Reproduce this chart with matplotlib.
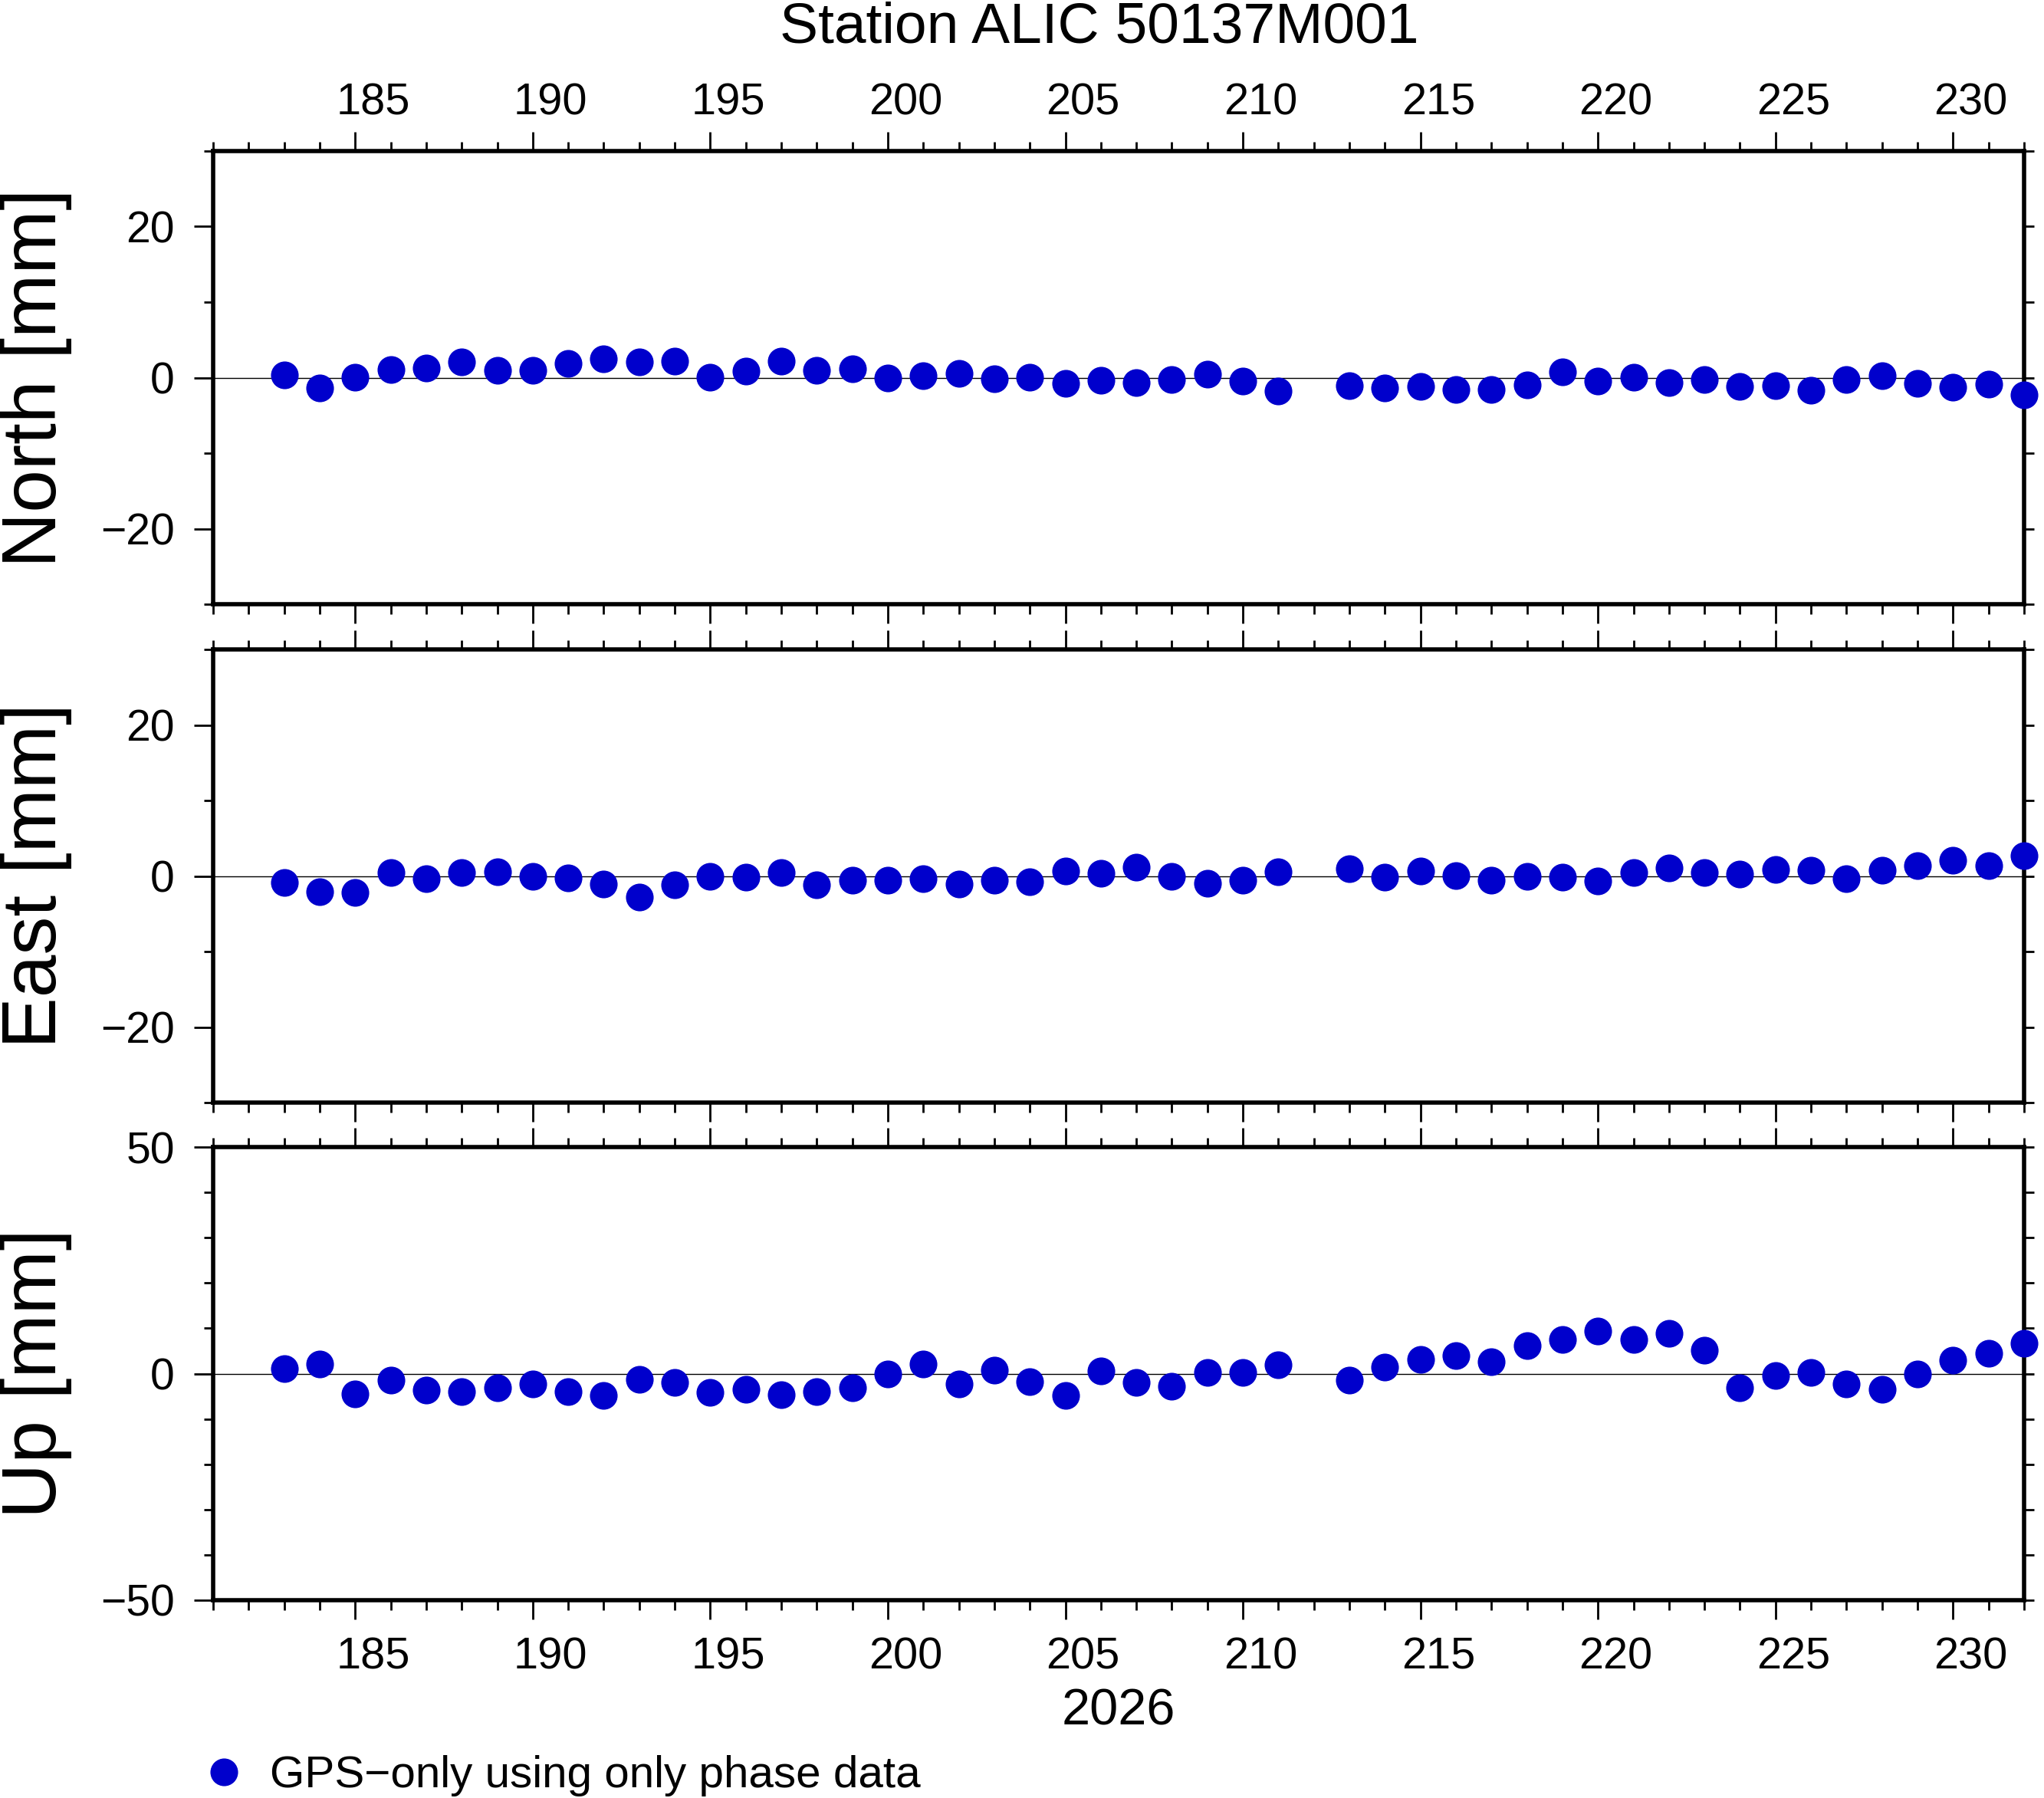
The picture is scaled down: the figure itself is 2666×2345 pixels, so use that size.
import numpy as np  # numeric helpers
import matplotlib
matplotlib.use('Agg')
import matplotlib.pyplot as plt  # plotting
from matplotlib.ticker import MultipleLocator

plt.rcParams['font.family'] = ['Liberation Sans', 'DejaVu Sans']

# Day of year 2026 (day 212 is missing)
days = [183, 184, 185, 186, 187, 188, 189, 190, 191, 192, 193, 194, 195, 196, 197,
        198, 199, 200, 201, 202, 203, 204, 205, 206, 207, 208, 209, 210, 211,
        213, 214, 215, 216, 217, 218, 219, 220, 221, 222, 223, 224, 225, 226, 227,
        228, 229, 230, 231, 232]

# Residuals in mm
north = [0.35, -1.4, 0.05, 1.08, 1.27, 2.1, 0.96, 0.96, 1.87, 2.48, 2.08, 2.18, 0.05, 0.86, 2.18,
         1.0, 1.17, -0.05, 0.25, 0.56, -0.15, 0.08, -0.76, -0.35, -0.64, -0.25, 0.47, -0.46, -1.76,
         -1.05, -1.37, -1.17, -1.57, -1.57, -0.93, 0.76, -0.46, 0.05, -0.66, -0.25, -1.17, -1.06, -1.67,
         -0.25, 0.25, -0.76, -1.27, -0.86, -2.33]
east = [-0.83, -2.06, -2.18, 0.46, -0.35, 0.46, 0.56, -0.05, -0.25, -1.06, -2.79, -1.17, -0.05, -0.15, 0.46,
        -1.17, -0.56, -0.56, -0.35, -1.06, -0.56, -0.76, 0.66, 0.35, 1.17, -0.05, -0.95, -0.56, 0.56,
        1.0, -0.15, 0.66, 0.05, -0.56, -0.05, -0.15, -0.66, 0.46, 1.06, 0.46, 0.25, 0.86, 0.76,
        -0.35, 0.76, 1.37, 2.1, 1.37, 2.7]
up = [1.1, 2.1, -4.5, -1.5, -3.7, -4.0, -3.2, -2.2, -3.9, -4.9, -1.2, -2.0, -4.2, -3.5, -4.7,
      -4.0, -3.2, -0.1, 2.1, -2.2, 0.7, -1.8, -4.9, 0.6, -2.0, -2.8, 0.3, 0.3, 1.95,
      -1.4, 1.4, 3.1, 3.9, 2.7, 6.2, 7.5, 9.35, 7.5, 8.8, 5.1, -3.2, -0.45, 0.3, -2.3,
      -3.5, 0.0, 2.9, 4.5, 6.7]

series = [north, east, up]
names = ['North [mm]', 'East [mm]', 'Up [mm]']
ylims = [(-30, 30), (-30, 30), (-50, 50)]
ymajor = [20, 20, 50]
xlabels = [185, 190, 195, 200, 205, 210, 215, 220, 225, 230]

W, H = 2666, 2345
fig = plt.figure(figsize=(W / 200, H / 200), dpi=200)

left = 278 / W
width = (2640 - 278) / W
tops = [197, 847, 1496]  # frame tops in pixels
panel_h = 591

for i in range(3):
    ax = fig.add_axes([left, 1 - (tops[i] + panel_h) / H, width, panel_h / H])
    ax.axhline(0, color='black', lw=0.5, zorder=1)  # zero line
    pts, = ax.plot(days, series[i], 'o', color='#0000CC', markersize=13, mew=0,
                   clip_on=False, zorder=5)
    ax.set_xlim(181, 232)
    ax.set_ylim(*ylims[i])
    ax.xaxis.set_major_locator(MultipleLocator(5))
    ax.xaxis.set_minor_locator(MultipleLocator(1))
    ax.yaxis.set_major_locator(MultipleLocator(ymajor[i]))
    ax.yaxis.set_minor_locator(MultipleLocator(10))
    ax.tick_params(which='both', direction='out', top=True, bottom=True, left=True, right=False,
                   labelbottom=False, labeltop=False, width=1.0)
    ax.tick_params(which='major', length=9)
    ax.tick_params(which='minor', length=4.5)
    ax.tick_params(axis='y', labelsize=20.5, pad=9)
    for s in ax.spines.values():
        s.set_linewidth(2.0)

    # right side: short ticks only
    sy = ax.secondary_yaxis('right')
    sy.set_yticks(np.arange(ylims[i][0], ylims[i][1] + 1, 10))
    sy.tick_params(length=4.5, width=1.0, labelright=False, direction='out')
    for s in sy.spines.values():
        s.set_visible(False)

    # day labels centred inside each day interval
    if i == 0 or i == 2:
        where = 'top' if i == 0 else 'bottom'
        sx = ax.secondary_xaxis(where)
        sx.set_xticks([d + 0.5 for d in xlabels], labels=[str(d) for d in xlabels])
        sx.tick_params(length=0, pad=12.6 if i == 0 else 17, labelsize=20.8)
        for s in sx.spines.values():
            s.set_visible(False)

    # component label
    fig.text(47 / W, 1 - (tops[i] + panel_h / 2) / H, names[i], rotation=90,
             ha='center', va='center', fontsize=36)

fig.text(1434 / W, 1 - 56 / H, 'Station ALIC 50137M001', ha='center', va='baseline', fontsize=27)
fig.text(1459 / W, 1 - 2249 / H, '2026', ha='center', va='baseline', fontsize=24)

fig.legend(handles=[pts], labels=['GPS\u2212only using only phase data'], loc='center left',
           bbox_to_anchor=(263 / W, 1 - 2316 / H), frameon=False, fontsize=21,
           handlelength=1.0, handletextpad=0.53, borderpad=0, borderaxespad=0, numpoints=1)

fig.savefig('out.png', dpi=200)
